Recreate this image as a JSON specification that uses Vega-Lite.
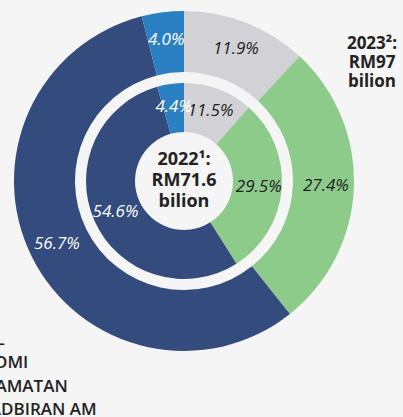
{
  "$schema": "https://vega.github.io/schema/vega-lite/v6.json",
  "width": 368,
  "height": 362,
  "autosize": "none",
  "padding": {"left": 0, "top": 0, "right": 35, "bottom": 55},
  "background": "#f5f5f5",
  "config": {
    "view": {"stroke": null},
    "font": "Open Sans"
  },
  "title": {
    "text": ["2023²:", "RM97", "bilion"],
    "frame": "group",
    "anchor": "end",
    "align": "center",
    "baseline": "top",
    "offset": 0,
    "dx": 4,
    "dy": 91,
    "font": "Open Sans",
    "fontSize": 17,
    "fontWeight": 700,
    "color": "#222222",
    "lineHeight": 19
  },
  "data": {
    "values": [
      {"year": "2023", "sector": "KESELAMATAN", "pct": 11.9, "rank": 1},
      {"year": "2023", "sector": "SOSIAL", "pct": 27.4, "rank": 2},
      {"year": "2023", "sector": "EKONOMI", "pct": 56.7, "rank": 3},
      {"year": "2023", "sector": "PENTADBIRAN AM", "pct": 4.0, "rank": 4},
      {"year": "2022", "sector": "KESELAMATAN", "pct": 11.5, "rank": 1},
      {"year": "2022", "sector": "SOSIAL", "pct": 29.5, "rank": 2},
      {"year": "2022", "sector": "EKONOMI", "pct": 54.6, "rank": 3},
      {"year": "2022", "sector": "PENTADBIRAN AM", "pct": 4.4, "rank": 4}
    ]
  },
  "layer": [
    {
      "transform": [{"filter": "datum.year === '2023'"}],
      "mark": {"type": "arc", "outerRadius": 170, "innerRadius": 109},
      "encoding": {
        "theta": {"field": "pct", "type": "quantitative", "stack": true},
        "order": {"field": "rank", "type": "quantitative"},
        "color": {
          "field": "sector",
          "type": "nominal",
          "scale": {
            "domain": ["SOSIAL", "EKONOMI", "KESELAMATAN", "PENTADBIRAN AM"],
            "range": ["#8dcb8b", "#334b7d", "#d2d2d6", "#2b80c3"]
          },
          "legend": {
            "orient": "none",
            "legendX": -78,
            "legendY": 331,
            "title": null,
            "padding": 0,
            "labelFont": "Open Sans",
            "labelFontSize": 17,
            "labelFontWeight": 600,
            "labelColor": "#222222",
            "labelLimit": 300,
            "labelOffset": 8,
            "symbolType": "square",
            "symbolSize": 100,
            "rowPadding": 5.5
          }
        }
      }
    },
    {
      "transform": [{"filter": "datum.year === '2022'"}],
      "mark": {"type": "arc", "outerRadius": 98, "innerRadius": 49},
      "encoding": {
        "theta": {"field": "pct", "type": "quantitative", "stack": true},
        "order": {"field": "rank", "type": "quantitative"},
        "color": {"field": "sector", "type": "nominal"}
      }
    },
    {
      "transform": [{"filter": "datum.year === '2023'"}],
      "mark": {"type": "text", "radius": 142, "font": "Open Sans", "fontSize": 17, "fontStyle": "italic", "text": {"expr": "format(datum.pct, '.1f') + '%'"}},
      "encoding": {
        "theta": {"field": "pct", "type": "quantitative", "stack": true},
        "order": {"field": "rank", "type": "quantitative"},
        "color": {"condition": {"test": "datum.rank >= 3", "value": "#ffffff"}, "value": "#222222"}
      }
    },
    {
      "transform": [{"filter": "datum.year === '2022'"}],
      "mark": {"type": "text", "radius": 75, "font": "Open Sans", "fontSize": 17, "fontStyle": "italic", "text": {"expr": "format(datum.pct, '.1f') + '%'"}},
      "encoding": {
        "theta": {"field": "pct", "type": "quantitative", "stack": true},
        "order": {"field": "rank", "type": "quantitative"},
        "color": {"condition": {"test": "datum.rank >= 3", "value": "#ffffff"}, "value": "#222222"}
      }
    },
    {
      "data": {"values": [{"year": "2022"}]},
      "mark": {
        "type": "text",
        "text": ["2022¹:", "RM71.6", "bilion"],
        "font": "Open Sans",
        "fontSize": 18,
        "fontWeight": 700,
        "color": "#222222",
        "lineHeight": 21,
        "align": "center",
        "baseline": "middle",
        "dy": -21
      },
      "encoding": {}
    }
  ]
}
